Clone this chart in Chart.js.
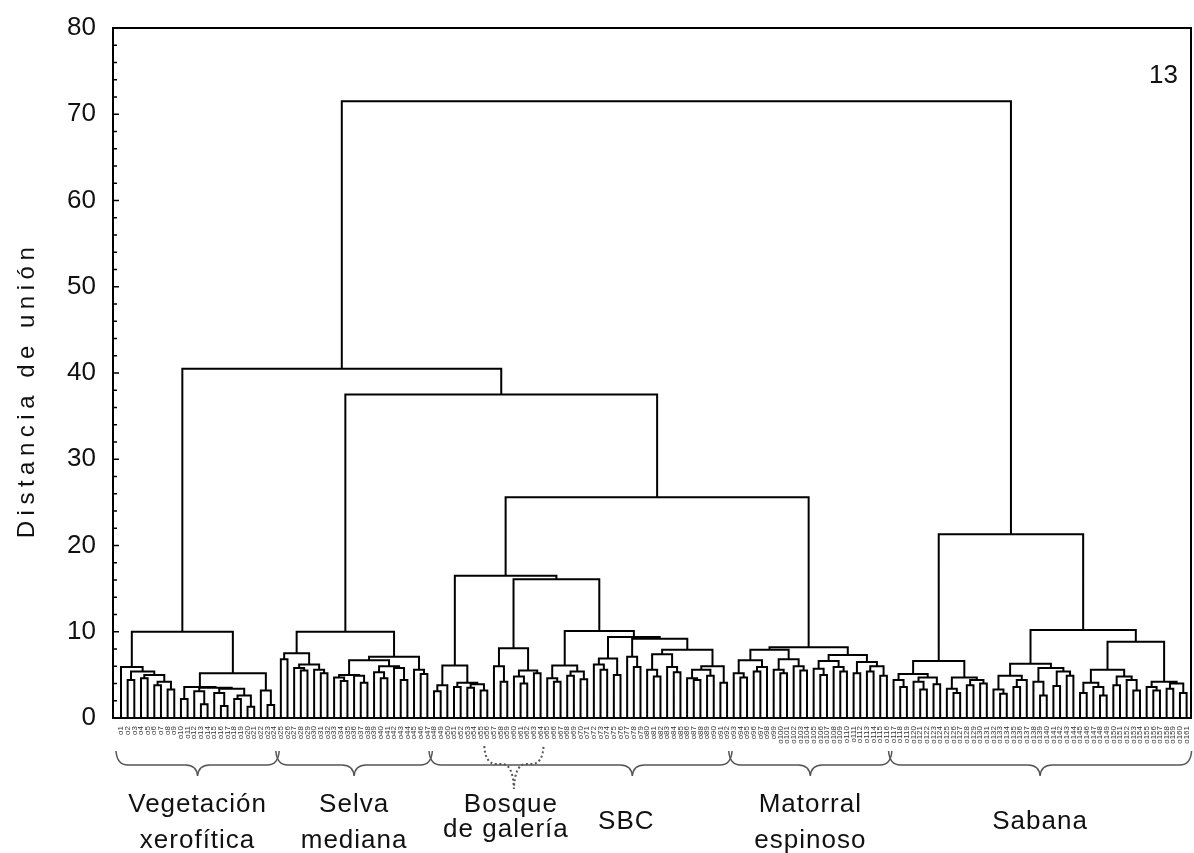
<!DOCTYPE html>
<html>
<head>
<meta charset="utf-8">
<script src="https://cdn.jsdelivr.net/npm/chart.js@4.4.0/dist/chart.umd.min.js"></script>
<style>
  html, body { margin: 0; padding: 0; background: #fff; }
  #wrap { position: relative; width: 1194px; height: 853px; }
</style>
</head>
<body>
<div id="wrap"><canvas id="dendro"></canvas></div>
<script>
// every node is [joinDistance, left, right]; 0 stands for one sampled site (leaf)
const xerofitica = [10.0,
  [5.9, 0, [5.4, [4.4, 0, 0], [5.0, [4.6, 0, 0], [4.2, [3.8, 0, 0], [3.3, 0, 0]]]]],
  [5.2,
    [3.6, [2.2, 0, 0],
      [3.5, [3.1, 0, [1.6, 0, 0]], [3.4, [2.9, 0, [1.4, 0, 0]], [2.6, [2.2, 0, 0], [1.3, 0, 0]]]]],
    [3.2, 0, [1.5, 0, 0]]]];

const selvaMediana = [10.0,
  [7.5, [6.8, 0, 0], [6.2, [5.8, 0, [5.5, 0, 0]], [5.6, 0, [5.2, 0, 0]]]],
  [7.1,
    [6.7, [5.0, [4.7, 0, [4.3, 0, 0]], [4.9, 0, [4.1, 0, 0]]], [6.0, [5.3, 0, [4.6, 0, 0]], [5.8, 0, [4.4, 0, 0]]]],
    [5.6, 0, [5.1, 0, 0]]]];

const sbc = [16.5,
  [6.1, [3.8, [3.1, 0, 0], 0], [4.1, [3.6, 0, 0], [3.9, [3.5, 0, 0], [3.2, 0, 0]]]],
  [16.1,
    [8.1, [6.0, 0, [4.2, 0, 0]], [5.5, [4.8, 0, [4.0, 0, 0]], [5.2, 0, 0]]],
    [10.1,
      [6.1, [4.6, 0, [4.2, 0, 0]], [5.4, [4.9, 0, 0], [4.5, 0, 0]]],
      [9.4,
        [6.9, [6.2, 0, [5.6, 0, 0]], [5.0, 0, 0]],
        [9.2,
          [7.1, 0, [5.9, 0, 0]],
          [7.9,
            [7.4, [5.6, 0, [4.8, 0, 0]], [5.9, 0, [5.3, 0, 0]]],
            [6.0, [5.6, [4.6, 0, [4.4, 0, 0]], [4.9, 0, 0]], [4.1, 0, 0]]]]]]]];

const matorral = [8.2,
  [7.9, [6.7, [5.2, 0, [4.7, 0, 0]], [5.9, [5.4, 0, 0], 0]], [6.8, [5.6, 0, [5.2, 0, 0]], [6.0, 0, [5.5, 0, 0]]]],
  [7.3, [6.6, [5.7, 0, [5.0, 0, 0]], [5.9, 0, [5.4, 0, 0]]], [6.5, [5.2, 0, 0], [6.0, [5.4, 0, 0], [4.9, 0, 0]]]]];

const sabana = [21.3,
  [6.6,
    [5.1, [4.4, 0, [3.6, 0, 0]], [4.7, [4.2, 0, [3.3, 0, 0]], [3.9, 0, 0]]],
    [4.7, [3.4, 0, [2.9, 0, 0]], [4.4, [3.8, 0, 0], [4.0, 0, 0]]]],
  [10.2,
    [6.3,
      [4.9, [3.3, 0, [2.8, 0, 0]], [4.4, [3.6, 0, 0], 0]],
      [5.8, [4.2, 0, [2.6, 0, 0]], [5.4, [3.7, 0, 0], [4.9, 0, 0]]]],
    [8.85,
      [5.6, [4.1, [2.9, 0, 0], [3.6, 0, [2.6, 0, 0]]], [4.8, [3.8, 0, 0], [4.4, 0, [3.2, 0, 0]]]],
      [4.2, [3.6, 0, [3.2, 0, 0]], [4.0, [3.4, 0, 0], [2.9, 0, 0]]]]]];

// joins between the big groups, from the top down
const upperJoins = [71.5, 40.5, 37.5, 25.6];

const groups = [xerofitica, selvaMediana, sbc, matorral, sabana];
const groupLabels = [['Vegetación', 'xerofítica'], ['Selva', 'mediana'], ['SBC'], ['Matorral', 'espinoso'], ['Sabana']];
const bosqueLeaves = [8, 16]; // first/last leaf of "Bosque de galería" inside SBC
const yTicks = [0, 10, 20, 30, 40, 50, 60, 70, 80];
const yTitle = 'Distancia de unión';
const panelNumber = '13';

const tree = [upperJoins[0],
  [upperJoins[1], xerofitica, [upperJoins[2], selvaMediana, [upperJoins[3], sbc, matorral]]],
  sabana];

function countLeaves(node) {
  if (node === 0) return 1;
  return countLeaves(node[1]) + countLeaves(node[2]);
}

let nextLeaf = 0;
const segments = [];

function layout(node) {
  if (node === 0) return { x: nextLeaf++, y: 0 };
  const h = node[0];
  const l = layout(node[1]);
  const r = layout(node[2]);
  segments.push({ x: l.x, y: l.y }, { x: l.x, y: h }, { x: r.x, y: h }, { x: r.x, y: r.y }, { x: r.x, y: null });
  return { x: (l.x + r.x) / 2, y: h };
}
layout(tree);
const nLeaves = nextLeaf;

const leafLabels = Array.from({ length: nLeaves }, (_, i) => 'o' + (i + 1));

// leaf index ranges of each group, for the braces
const groupRanges = [];
let start = 0;
groups.forEach(g => {
  const n = countLeaves(g);
  groupRanges.push([start, start + n - 1]);
  start += n;
});

const FONT = '"Liberation Sans", Arial, sans-serif';

function brace(ctx, x1, x2, xm, yTop, yMid, yTip) {
  const r = 12;
  ctx.beginPath();
  ctx.moveTo(x1, yTop);
  ctx.quadraticCurveTo(x1 + 1, yMid, x1 + r, yMid);
  ctx.lineTo(xm - r, yMid);
  ctx.quadraticCurveTo(xm - 1, yMid, xm, yTip);
  ctx.quadraticCurveTo(xm + 1, yMid, xm + r, yMid);
  ctx.lineTo(x2 - r, yMid);
  ctx.quadraticCurveTo(x2 - 1, yMid, x2, yTop);
  ctx.stroke();
}

const extras = {
  id: 'extras',
  afterDraw(chart) {
    const { ctx, chartArea: a, scales: { x, y } } = chart;
    ctx.save();

    // frame
    ctx.strokeStyle = '#000';
    ctx.lineWidth = 2;
    ctx.beginPath();
    ctx.moveTo(a.left, a.top);
    ctx.lineTo(a.right, a.top);
    ctx.lineTo(a.right, a.bottom);
    ctx.stroke();

    // inward ticks, minor every 2
    ctx.lineWidth = 1.5;
    y.ticks.forEach(t => {
      const py = y.getPixelForValue(t.value);
      const len = yTicks.includes(t.value) ? 6 : 4;
      ctx.beginPath();
      ctx.moveTo(a.left, py);
      ctx.lineTo(a.left + len, py);
      ctx.stroke();
    });

    // braces under the leaves
    ctx.strokeStyle = '#555';
    ctx.lineWidth = 1.5;
    const sbcIdx = 2;
    groupRanges.forEach((rg, gi) => {
      const x1 = x.getPixelForValue(rg[0]) - 5;
      const x2 = x.getPixelForValue(rg[1]) + 5;
      let xm = (x1 + x2) / 2;
      if (gi === sbcIdx) {
        xm = (x.getPixelForValue(rg[0] + bosqueLeaves[1]) + x2) / 2 - 4;
      }
      brace(ctx, x1, x2, xm, 751, 765, 776);
      groupRanges[gi].tip = xm;
    });

    // dotted brace for Bosque de galería
    const s0 = groupRanges[sbcIdx][0];
    const bx1 = x.getPixelForValue(s0 + bosqueLeaves[0]) - 3;
    const bx2 = x.getPixelForValue(s0 + bosqueLeaves[1]) + 3;
    const bxm = (bx1 + bx2) / 2;
    ctx.setLineDash([2, 2.5]);
    ctx.lineWidth = 2;
    brace(ctx, bx1, bx2, bxm, 746, 764, 789);
    ctx.setLineDash([]);

    // group names
    ctx.fillStyle = '#111';
    ctx.font = '26px ' + FONT;
    ctx.letterSpacing = '1px';
    ctx.textAlign = 'center';
    ctx.textBaseline = 'middle';
    groupLabels.forEach((lines, gi) => {
      const cx = groupRanges[gi].tip;
      if (lines.length === 2) {
        ctx.fillText(lines[0], cx, 805);
        ctx.fillText(lines[1], cx, 841);
      } else {
        ctx.fillText(lines[0], gi === sbcIdx ? cx - 6 : cx, 822);
      }
    });
    ctx.fillText('Bosque', bxm - 3, 805);
    ctx.fillText('de galería', bxm - 8, 830);

    // panel number
    ctx.textAlign = 'right';
    ctx.letterSpacing = '0px';
    ctx.fillText(panelNumber, 1178, 76);

    // axis title, spaced out as in the original
    ctx.translate(34, 390);
    ctx.rotate(-Math.PI / 2);
    ctx.font = '24px ' + FONT;
    ctx.letterSpacing = '5.5px';
    ctx.textAlign = 'center';
    ctx.textBaseline = 'alphabetic';
    ctx.fillText(yTitle, 0, 0);
    ctx.restore();
  }
};

new Chart(document.getElementById('dendro'), {
  type: 'line',
  data: {
    datasets: [{
      data: segments,
      borderColor: '#000',
      borderWidth: 2,
      pointRadius: 0,
      tension: 0,
      spanGaps: false,
      clip: false,
      borderJoinStyle: 'miter',
      borderCapStyle: 'square'
    }]
  },
  options: {
    responsive: true,
    maintainAspectRatio: false,
    animation: false,
    layout: { padding: { top: 28, right: 3, left: 0, bottom: 0 } },
    plugins: {
      legend: { display: false },
      tooltip: { enabled: false }
    },
    scales: {
      x: {
        type: 'linear',
        min: -1.2,
        max: nLeaves - 1 + 0.66,
        afterBuildTicks: scale => {
          scale.ticks = leafLabels.map((_, i) => ({ value: i }));
        },
        afterFit: scale => {
          scale.height = 135;
          scale.paddingLeft = 0;
          scale.paddingRight = 0;
        },
        grid: { display: false, drawTicks: false },
        border: { display: true, color: '#000', width: 2 },
        ticks: {
          autoSkip: false,
          minRotation: 90,
          maxRotation: 90,
          padding: 8,
          color: '#333',
          font: { size: 8, family: FONT },
          callback: (value, index) => leafLabels[index]
        }
      },
      y: {
        min: 0,
        max: 80,
        afterFit: scale => {
          scale.width = 113;
          scale.paddingTop = 0;
          scale.paddingBottom = 0;
        },
        grid: { display: false, drawTicks: false },
        border: { display: true, color: '#000', width: 2 },
        ticks: {
          stepSize: 2,
          autoSkip: false,
          padding: 17,
          color: '#111',
          font: { size: 26, family: FONT },
          callback: v => (yTicks.includes(v) ? v : '')
        }
      }
    }
  },
  plugins: [extras]
});
</script>
</body>
</html>
